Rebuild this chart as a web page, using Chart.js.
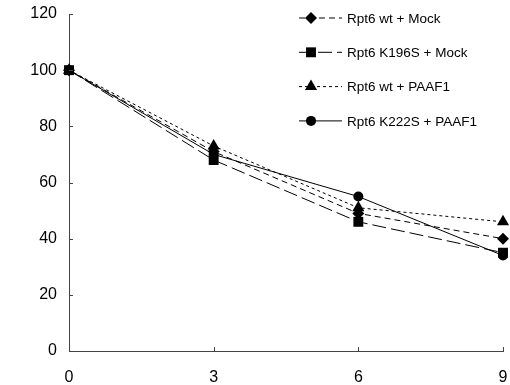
<!DOCTYPE html>
<html>
<head>
<meta charset="utf-8">
<script src="https://cdn.jsdelivr.net/npm/chart.js@4/dist/chart.umd.min.js"></script>
<style>
  html, body { margin: 0; padding: 0; background: #fff; }
  #wrap { width: 510px; height: 385px; }
</style>
</head>
<body>
<div id="wrap"><canvas id="grafico"></canvas></div>
<script>
const tempos = [0, 3, 6, 9];
const wtMock = [100, 71, 49, 40];
const k196sMock = [100, 68, 46, 35];
const wtPaaf1 = [100, 73, 51, 46];
const k222sPaaf1 = [100, 70, 55, 34];
const nomes = ["Rpt6 wt + Mock", "Rpt6 K196S + Mock", "Rpt6 wt + PAAF1", "Rpt6 K222S + PAAF1"];
const yTicks = [0, 20, 40, 60, 80, 100, 120];
const xTicks = [0, 3, 6, 9];

const pontos = (valores) => tempos.map((t, i) => ({ x: t, y: valores[i] }));

const raios = { rectRot: 6, rect: 7, triangle: 7, circle: 5 };

const serie = (label, valores, estilo, dash) => ({
  label: label,
  data: pontos(valores),
  borderColor: "#000",
  backgroundColor: "#000",
  borderWidth: 1,
  borderDash: dash,
  pointStyle: estilo,
  pointRadius: raios[estilo],
  pointBorderWidth: 0,
  tension: 0,
});

// legenda desenhada a mao, com linha tracejada + marcador
const legendaPlugin = {
  id: "legenda",
  afterDraw(chart) {
    const c = chart.ctx;
    c.save();
    chart.data.datasets.forEach((ds, i) => {
      const y = 18 + i * 34.3;
      c.strokeStyle = "#000";
      c.lineWidth = 1;
      c.setLineDash(ds.borderDash || []);
      c.beginPath();
      c.moveTo(299, y);
      c.lineTo(342, y);
      c.stroke();
      c.setLineDash([]);
      Chart.helpers.drawPoint(c, { pointStyle: ds.pointStyle, radius: ds.pointRadius, rotation: 0, borderWidth: 0 }, 311, y);
      c.fillStyle = "#000";
      c.font = "13.5px 'Liberation Sans', Arial, sans-serif";
      c.textBaseline = "middle";
      c.fillText(ds.label, 347, y + 1);
    });
    // marcas dos eixos voltadas para dentro
    const xs = chart.scales.x, ys = chart.scales.y;
    c.strokeStyle = "#444";
    c.beginPath();
    xTicks.forEach((v) => {
      const px = Math.round(xs.getPixelForValue(v)) + 0.5;
      c.moveTo(px, ys.bottom);
      c.lineTo(px, ys.bottom - 4);
    });
    yTicks.forEach((v) => {
      const py = Math.round(ys.getPixelForValue(v)) + 0.5;
      c.moveTo(xs.left, py);
      c.lineTo(xs.left + 4, py);
    });
    c.stroke();
    c.restore();
  },
};

new Chart(document.getElementById("grafico"), {
  type: "line",
  data: {
    datasets: [
      serie(nomes[0], wtMock, "rectRot", [6, 4]),
      serie(nomes[1], k196sMock, "rect", [14, 5]),
      serie(nomes[2], wtPaaf1, "triangle", [3, 3]),
      serie(nomes[3], k222sPaaf1, "circle", []),
    ],
  },
  options: {
    responsive: true,
    maintainAspectRatio: false,
    animation: false,
    clip: false,
    layout: { padding: { left: 0, top: 0, right: 7, bottom: 0 } },
    plugins: { legend: { display: false }, tooltip: { enabled: false } },
    scales: {
      x: {
        type: "linear",
        min: 0,
        max: 9,
        afterBuildTicks: (s) => { s.ticks = xTicks.map((v) => ({ value: v })); },
        afterFit: (s) => { s.height = 34; s.paddingLeft = 0; s.paddingRight = 0; },
        grid: { display: false, drawTicks: false },
        border: { color: "#444", width: 1 },
        ticks: { padding: 17, color: "#000", font: { size: 16, family: "'Liberation Sans', Arial, sans-serif" } },
      },
      y: {
        min: 0,
        max: 120,
        afterBuildTicks: (s) => { s.ticks = yTicks.map((v) => ({ value: v })); },
        afterFit: (s) => { s.width = 69; s.paddingTop = 14; s.paddingBottom = 0; },
        grid: { display: false, drawTicks: false },
        border: { color: "#444", width: 1 },
        ticks: { padding: 12, color: "#000", font: { size: 16, family: "'Liberation Sans', Arial, sans-serif" } },
      },
    },
  },
  plugins: [legendaPlugin],
});
</script>
</body>
</html>
